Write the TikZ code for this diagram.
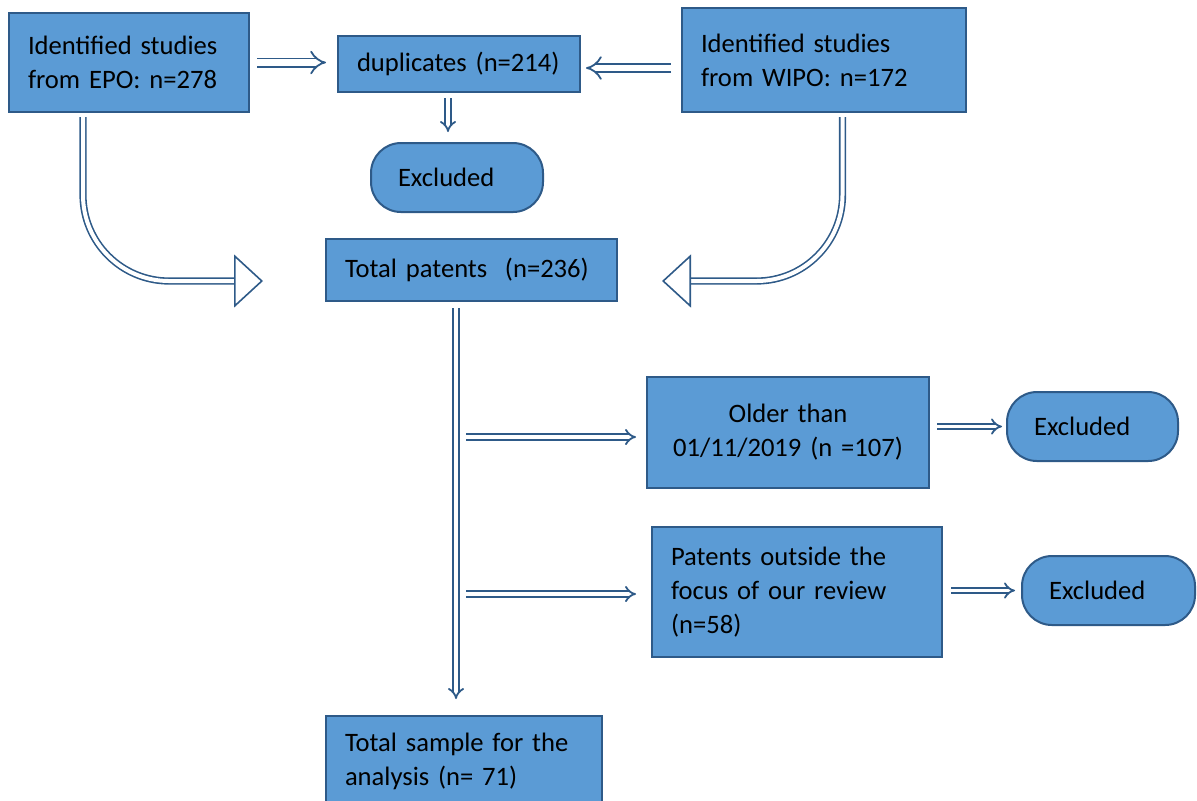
\documentclass[tikz,border=0pt]{standalone}
\usepackage{fontspec}
\setmainfont{Carlito}
\usetikzlibrary{arrows.meta,positioning}
\definecolor{boxfill}{HTML}{5B9BD5}
\definecolor{boxline}{HTML}{2E5A88}

\begin{document}
\begin{tikzpicture}[
  x=0.5pt,
  y=-0.5pt,
  flowbox/.style={
    draw=boxline,
    fill=boxfill,
    line width=1pt,
    align=left,
    inner xsep=9.5pt,
    inner ysep=0pt,
    font=\fontsize{13.3}{17}\selectfont
  },
  endbox/.style={flowbox, rounded corners=15pt, inner xsep=13.5pt},
  thinarrow/.style={
    draw=boxline,
    line width=0.9pt,
    double=white,
    double distance=1.8pt,
    -{Implies}
  },
  widearrow/.style={thinarrow, double distance=3.2pt},
  bigarrow/.style={
    draw=boxline,
    line width=0.8pt,
    double=white,
    double distance=2pt,
    rounded corners=43pt,
    -{Triangle[open, length=14.5pt, width=26.5pt]}
  }
]
  \clip (0,0) rectangle (1197,800);

  \node[flowbox, text width=101pt, minimum height=49.5pt] (epo) at (129,62.5)
    {Identified studies\\from EPO: n=278};
  \node[flowbox, text width=102pt, minimum height=28pt] (dup) at (459,64)
    {duplicates (n=214)};
  \node[flowbox, text width=123pt, minimum height=52pt] (wipo) at (824,60)
    {Identified studies\\from WIPO: n=172};
  \node[endbox, text width=59pt, minimum height=34.5pt] (excl1) at (457,177.5)
    {Excluded};
  \node[flowbox, text width=126.5pt, minimum height=31pt] (total) at (471.5,270)
    {Total patents\ \ (n=236)};
  \node[flowbox, align=center, text width=122pt, minimum height=55.5pt] (older) at (788,432.5)
    {Older than\\01/11/2019 (n =107)};
  \node[endbox, text width=58.5pt, minimum height=34.5pt] (excl2) at (1092.5,426.5)
    {Excluded};
  \node[flowbox, text width=126pt, minimum height=65pt] (outside) at (797,592)
    {Patents outside the\\focus of our review\\(n=58)};
  \node[endbox, text width=59.5pt, minimum height=34.5pt] (excl3) at (1108.5,590.5)
    {Excluded};
  \node[flowbox, text width=119pt, minimum height=45pt] (sample) at (464,761)
    {Total sample for the\\analysis (n= 71)};

  \coordinate (fork1) at (466,437);
  \coordinate (fork2) at (466,594);

  \draw[widearrow, shorten <=3.5pt, shorten >=5.5pt] (epo.east) -- (epo.east -| dup.west);
  \draw[widearrow, shorten <=5pt, shorten >=2.5pt] ([yshift=-4pt]wipo.west) -- ([yshift=-4pt]wipo.west -| dup.east);
  \draw[thinarrow, shorten <=2.5pt, shorten >=5pt] ([xshift=-5.5pt]dup.south) -- ([xshift=-5.5pt]dup.south |- excl1.north);

  \draw[bigarrow, shorten <=2pt] ([xshift=-23pt]epo.south) |- ([xshift=-31pt,yshift=-5.5pt]total.west);
  \draw[bigarrow, shorten <=2pt] ([xshift=9.25pt]wipo.south) |- ([xshift=22pt,yshift=-5.5pt]total.east);

  \draw[thinarrow, shorten <=3pt, shorten >=8pt] ([xshift=-7.75pt]total.south) -- ([xshift=-7.75pt]total.south |- sample.north);
  \draw[thinarrow, shorten >=5pt] (fork1) -- (fork1 -| older.west);
  \draw[thinarrow, shorten >=7.5pt] (fork2) -- (fork2 -| outside.west);

  \draw[thinarrow, shorten <=3.5pt, shorten >=2pt] (older.east |- excl2.west) -- (excl2.west);
  \draw[thinarrow, shorten <=4pt, shorten >=3pt] (outside.east |- excl3.west) -- (excl3.west);
\end{tikzpicture}
\end{document}
